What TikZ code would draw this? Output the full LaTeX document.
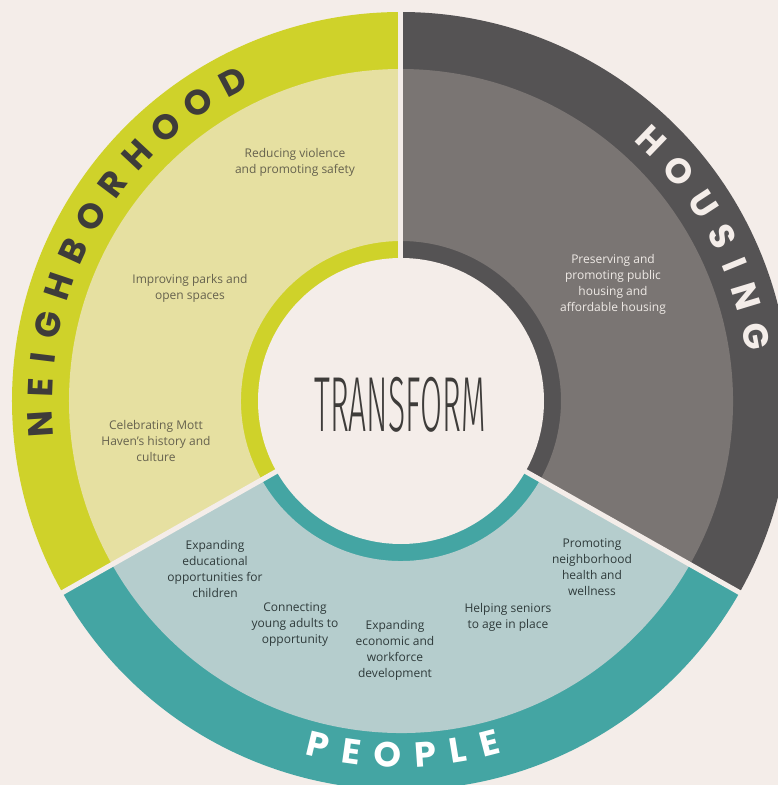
\documentclass[tikz,border=0pt]{standalone}
\usepackage{fontspec}
\setmainfont{Open Sans}
\newfontfamily\bandfont{Poppins}
\newfontfamily\titlefont{Fira Sans Light}
\definecolor{paper}{HTML}{F4EDE9}
\definecolor{nbBand}{HTML}{CFD22A}
\definecolor{nbTint}{HTML}{E6E0A1}
\definecolor{hsBand}{HTML}{555354}
\definecolor{hsTint}{HTML}{7A7573}
\definecolor{ppBand}{HTML}{44A5A3}
\definecolor{ppTint}{HTML}{B5CDCD}
\definecolor{ink}{HTML}{3E3C3A}
\definecolor{nbInk}{HTML}{66624E}
\definecolor{ppInk}{HTML}{2F3B3B}
\definecolor{hsInk}{HTML}{EFEAE6}
\begin{document}
\begin{tikzpicture}[
  x=1pt, y=1pt,
  item/.style={font=\fontsize{12}{16}\selectfont, align=center},
  ringletter/.style={font=\bandfont\bfseries\fontsize{35}{35}\selectfont, inner sep=0pt},
  gap/.style={draw=paper, line width=5pt}
]
\fill[paper] (-401,-384) rectangle (377,401);
\useasboundingbox (-401,-384) rectangle (377,401);
\foreach \a/\b/\band/\tint in {90/209.5/nbBand/nbTint, -29.5/90/hsBand/hsTint, 209.5/330.5/ppBand/ppTint} {
  \fill[\band] (0,0) -- (\a:389pt) arc[start angle=\a, end angle=\b, radius=389pt] -- cycle;
  \fill[\tint] (\a:160pt) -- (\a:332pt) arc[start angle=\a, end angle=\b, radius=332pt]
    -- (\b:160pt) arc[start angle=\b, end angle=\a, radius=160pt] -- cycle;
}
\coordinate (hub) at (0,0);
\coordinate (cutN) at (90:395pt);
\coordinate (cutW) at (209.5:395pt);
\coordinate (cutE) at (330.5:395pt);
\draw[gap] (hub) -- (cutN);
\draw[gap] (hub) -- (cutW);
\draw[gap] (hub) -- (cutE);
\fill[paper] (hub) circle[radius=143pt];

\foreach \ch/\t [count=\i] in {N/183.7, E/177.8, I/173.1, G/167.9, H/161.5, B/155.4,
    O/149.2, R/143.0, H/137.0, O/130.7, O/124.2, D/117.8}
  \node[ringletter, text=ink, rotate=\t-90] (nb\i) at (\t:361pt) {\ch};
\foreach \ch/\t [count=\i] in {H/46.1, O/39.6, U/33.1, S/27.1, I/22.2, N/16.9, G/10.3}
  \node[ringletter, text=paper, rotate=\t-90] (hs\i) at (\t:361pt) {\ch};
\foreach \ch/\t [count=\i] in {P/256.5, E/262.0, O/267.9, P/273.9, L/279.3, E/284.5}
  \node[ringletter, text=white, rotate=\t+90] (pp\i) at (\t:354pt) {\ch};

\node[font=\titlefont\fontsize{60}{60}\selectfont, text=ink, xscale=0.53, yscale=1.3] (title) at (-1,-4) {TRANSFORM};

\node[item, text=nbInk] (safety) at (-106,239) {Reducing violence\\and promoting safety};
\node[item, text=nbInk] (parks) at (-211,113) {Improving parks and\\open spaces};
\node[item, text=nbInk] (culture) at (-245,-40) {Celebrating Mott\\Haven's history and\\culture};
\node[item, text=hsInk] (homes) at (212,117) {Preserving and\\promoting public\\housing and\\affordable housing};
\node[item, text=ppInk] (children) at (-186,-168) {Expanding\\educational\\opportunities for\\children};
\node[item, text=ppInk] (youth) at (-106,-224) {Connecting\\young adults to\\opportunity};
\node[item, text=ppInk] (jobs) at (-6,-249) {Expanding\\economic and\\workforce\\development};
\node[item, text=ppInk] (seniors) at (107,-216) {Helping seniors\\to age in place};
\node[item, text=ppInk] (health) at (191,-166) {Promoting\\neighborhood\\health and\\wellness};
\end{tikzpicture}
\end{document}
